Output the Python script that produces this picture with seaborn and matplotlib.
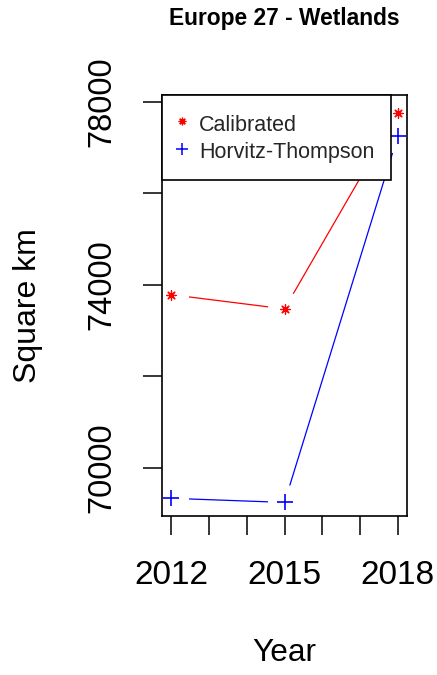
import matplotlib
matplotlib.use("Agg")
import matplotlib.pyplot as plt
from matplotlib.lines import Line2D
import seaborn as sns

# ---- data ----
years = [2012, 2015, 2018]
calibrated = [73780, 73470, 77750]
horvitz_thompson = [69330, 69240, 77240]
series_names = ["Calibrated", "Horvitz-Thompson"]
x_ticks = [2012, 2013, 2014, 2015, 2016, 2017, 2018]
x_labels = ["2012", "", "", "2015", "", "", "2018"]
y_ticks = [70000, 72000, 74000, 76000, 78000]
y_labels = ["70000", "", "74000", "", "78000"]

sns.set_theme(style="white")
plt.rcParams["font.family"] = ["Liberation Sans", "DejaVu Sans"]

fig = plt.figure(figsize=(4.37, 6.75), dpi=100)
ax = fig.add_axes([0.3714, 0.236, 0.5593, 0.6233])

# lines
sns.lineplot(x=years, y=calibrated, color="red", lw=0.9, ax=ax, zorder=2)
sns.lineplot(x=years, y=horvitz_thompson, color="blue", lw=0.9, ax=ax, zorder=2)
# white gaps around points (R type="b")
for vals in (calibrated, horvitz_thompson):
    sns.scatterplot(x=years, y=vals, color="white", s=640, linewidth=0,
                    marker="o", ax=ax, zorder=2.1)
# markers
sns.scatterplot(x=years, y=calibrated, color="red", marker=(8, 2, 0), s=45,
                linewidth=0.9, ax=ax, zorder=2.2)
sns.scatterplot(x=years, y=horvitz_thompson, color="blue", marker="+", s=130,
                linewidth=1.2, ax=ax, zorder=2.2)

ax.set_xlim(2011.76, 2018.24)
ax.set_ylim(68950, 78146)
ax.set_xticks(x_ticks)
ax.set_xticklabels(x_labels, fontsize=24)
ax.set_yticks(y_ticks)
ax.set_yticklabels(y_labels, fontsize=23.5, rotation=90)
for lab in ax.get_yticklabels():
    lab.set_va("center")
ax.tick_params(axis="both", which="both", direction="out", length=13.7,
               width=1.1, color="black", labelcolor="black", bottom=True, left=True)
ax.tick_params(axis="x", pad=18.5)
ax.tick_params(axis="y", pad=18.5)
for sp in ax.spines.values():
    sp.set_color("black")
    sp.set_linewidth(1.2)

ax.set_xlabel("Year", fontsize=22.8, color="black")
ax.xaxis.set_label_coords(0.5, -0.326)
ax.xaxis.label.set_va("center")
ax.set_ylabel("Square km", fontsize=23, color="black")
ax.yaxis.set_label_coords(-0.548, 0.5)
ax.yaxis.label.set_va("center")

fig.text(0.651, 1 - 18.5 / 675, "Europe 27 - Wetlands", fontsize=16.4,
         fontweight="bold", ha="center", va="center", color="black")

handles = [
    Line2D([], [], color="red", marker=(8, 2, 0), linestyle="none",
           markersize=5.5, markeredgewidth=0.9),
    Line2D([], [], color="blue", marker="+", linestyle="none",
           markersize=9, markeredgewidth=1.1),
]
leg = ax.legend(handles, series_names, loc="upper left", bbox_to_anchor=(0, 1),
                borderaxespad=0, fontsize=15.5, frameon=True, fancybox=False,
                framealpha=1, edgecolor="black", borderpad=0.78,
                handlelength=0.3, handleheight=1.3, handletextpad=0.62,
                labelspacing=0.17)
leg.get_frame().set_linewidth(1.2)
leg.set_zorder(5)

fig.savefig("out.png", dpi=100, facecolor="white")
